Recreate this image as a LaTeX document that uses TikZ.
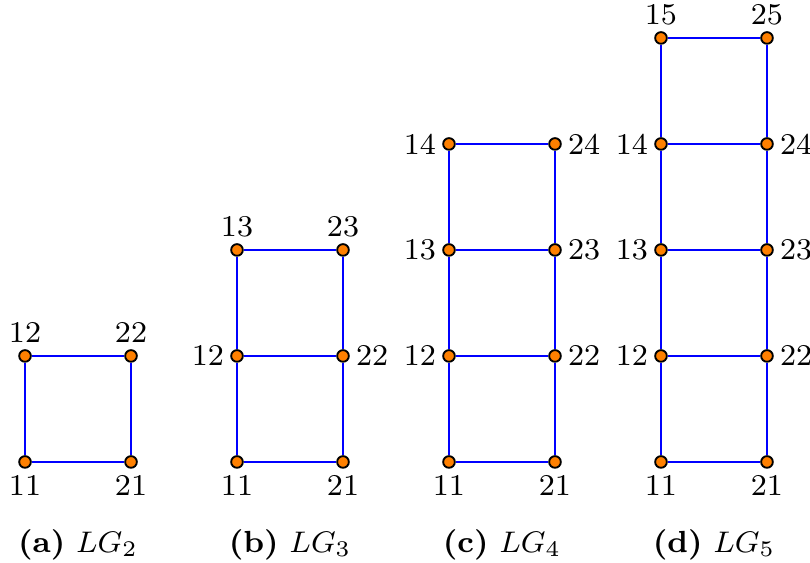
\documentclass[tikz,border=0pt]{standalone}
\usepackage{amsmath}
\usetikzlibrary{positioning}

\begin{document}
\begin{tikzpicture}[
    font=\fontsize{8.1}{9.7}\selectfont,
    vtx/.style={circle, draw=black, fill=orange, line width=0.5pt, inner sep=0pt, minimum size=1.1mm},
    lnk/.style={draw=blue, line width=0.65pt},
    subcap/.style={font=\fontsize{8.2}{9.8}\selectfont, inner sep=0pt},
    every label/.style={inner sep=1.5pt}
  ]
    \useasboundingbox (-0.236,-0.953) rectangle (7.406,4.358);

    % (a) LG_2
    \node[vtx, label=below:11] (a11) at (0,0) {};
    \node[vtx, label=below:21] (a21) at (1,0) {};
    \node[vtx, label=above:12] (a12) at (0,1) {};
    \node[vtx, label=above:22] (a22) at (1,1) {};
    \draw[lnk] (a11) -- (a12) -- (a22) -- (a21) -- (a11);
    \node[subcap] (capa) at (0.5,-0.78) {\textbf{(a)}\ $LG_2$};

    % (b) LG_3
    \node[vtx, label=below:11] (b11) at (2,0) {};
    \node[vtx, label=below:21] (b21) at (3,0) {};
    \node[vtx, label=left:12]  (b12) at (2,1) {};
    \node[vtx, label=right:22] (b22) at (3,1) {};
    \node[vtx, label=above:13] (b13) at (2,2) {};
    \node[vtx, label=above:23] (b23) at (3,2) {};
    \draw[lnk] (b11) -- (b12) -- (b13) -- (b23) -- (b22) -- (b21) -- (b11);
    \draw[lnk] (b12) -- (b22);
    \node[subcap] (capb) at (2.5,-0.78) {\textbf{(b)}\ $LG_3$};

    % (c) LG_4
    \node[vtx, label=below:11] (c11) at (4,0) {};
    \node[vtx, label=below:21] (c21) at (5,0) {};
    \node[vtx, label=left:12]  (c12) at (4,1) {};
    \node[vtx, label=right:22] (c22) at (5,1) {};
    \node[vtx, label=left:13]  (c13) at (4,2) {};
    \node[vtx, label=right:23] (c23) at (5,2) {};
    \node[vtx, label=left:14]  (c14) at (4,3) {};
    \node[vtx, label=right:24] (c24) at (5,3) {};
    \draw[lnk] (c11) -- (c12) -- (c13) -- (c14) -- (c24) -- (c23) -- (c22) -- (c21) -- (c11);
    \draw[lnk] (c12) -- (c22);
    \draw[lnk] (c13) -- (c23);
    \node[subcap] (capc) at (4.5,-0.78) {\textbf{(c)}\ $LG_4$};

    % (d) LG_5
    \node[vtx, label=below:11] (d11) at (6,0) {};
    \node[vtx, label=below:21] (d21) at (7,0) {};
    \node[vtx, label=left:12]  (d12) at (6,1) {};
    \node[vtx, label=right:22] (d22) at (7,1) {};
    \node[vtx, label=left:13]  (d13) at (6,2) {};
    \node[vtx, label=right:23] (d23) at (7,2) {};
    \node[vtx, label=left:14]  (d14) at (6,3) {};
    \node[vtx, label=right:24] (d24) at (7,3) {};
    \node[vtx, label=above:15] (d15) at (6,4) {};
    \node[vtx, label=above:25] (d25) at (7,4) {};
    \draw[lnk] (d11) -- (d12) -- (d13) -- (d14) -- (d15) -- (d25) -- (d24) -- (d23) -- (d22) -- (d21) -- (d11);
    \draw[lnk] (d12) -- (d22);
    \draw[lnk] (d13) -- (d23);
    \draw[lnk] (d14) -- (d24);
    \node[subcap] (capd) at (6.5,-0.78) {\textbf{(d)}\ $LG_5$};
  \end{tikzpicture}
\end{document}
